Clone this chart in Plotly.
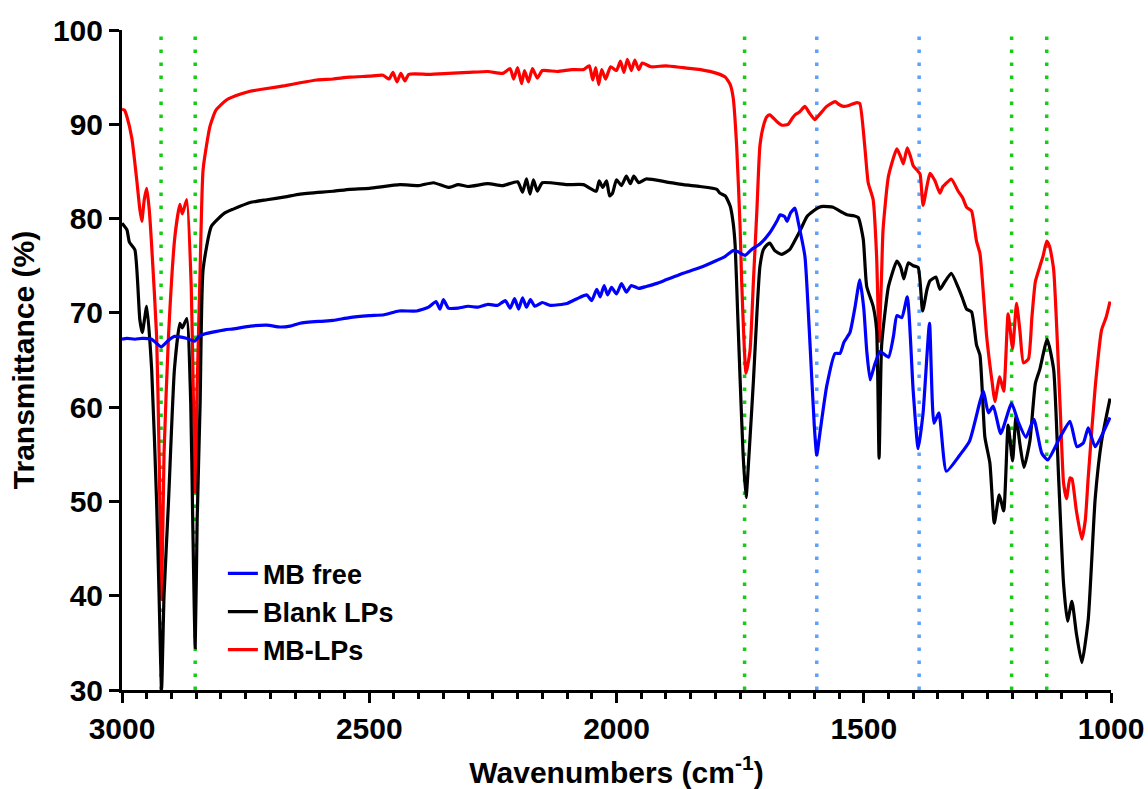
import plotly.graph_objects as go

# ---------------- data ----------------
red_wn = [3000, 2995, 2990, 2980, 2970, 2964, 2960, 2955, 2950, 2945, 2940, 2930, 2925, 2920, 2915, 2906,
          2893, 2883, 2878, 2869, 2860, 2856, 2852, 2848, 2842, 2836, 2822, 2810, 2788, 2760, 2741, 2707,
          2670, 2640, 2606, 2573, 2540, 2500, 2472, 2460, 2452, 2444, 2436, 2428, 2420, 2380, 2340, 2300,
          2260, 2230, 2215, 2208, 2200, 2192, 2186, 2178, 2170, 2160, 2150, 2120, 2090, 2067, 2055, 2048,
          2042, 2036, 2030, 2022, 2012, 2000, 1992, 1985, 1978, 1970, 1963, 1955, 1948, 1930, 1900, 1865,
          1830, 1797, 1780, 1770, 1764, 1757, 1750, 1747, 1738, 1730, 1723, 1716, 1710, 1703, 1696, 1690,
          1676, 1665, 1653, 1645, 1639, 1630, 1619, 1610, 1599, 1590, 1575, 1558, 1550, 1541, 1530, 1514,
          1508, 1498, 1491, 1481, 1474, 1469, 1464, 1461, 1450, 1433, 1425, 1420, 1412, 1405, 1400, 1390,
          1386, 1380, 1372, 1366, 1356, 1346, 1340, 1336, 1323, 1309, 1300, 1292, 1282, 1272, 1265, 1258,
          1252, 1245, 1240, 1235, 1225, 1217, 1208, 1199, 1191, 1184, 1177, 1167, 1160, 1153, 1144, 1137,
          1130, 1124, 1116, 1103, 1096, 1090, 1083, 1079, 1070, 1059, 1052, 1046, 1032, 1019, 1010, 1002]
red_t = [91.6, 91.5, 90.8, 88.5, 84.0, 81.0, 79.7, 82.0, 83.2, 81.0, 77.1, 67.5, 55.0, 39.6, 55.0, 67.5,
         78.1, 81.5, 80.5, 82.0, 72.8, 62.0, 51.0, 62.0, 74.6, 85.2, 89.8, 91.5, 92.6, 93.2, 93.5, 93.8,
         94.1, 94.4, 94.7, 94.8, 95.0, 95.1, 95.2, 94.8, 95.5, 94.5, 95.4, 94.6, 95.3, 95.3, 95.4, 95.5,
         95.6, 95.4, 95.9, 94.8, 96.0, 94.3, 95.7, 94.5, 95.9, 94.9, 95.7, 95.6, 95.8, 95.8, 96.2, 94.7,
         96.0, 94.2, 95.8, 94.8, 96.1, 95.7, 96.7, 95.5, 96.9, 95.7, 96.8, 95.8, 96.5, 96.1, 96.2, 96.0,
         95.8, 95.4, 95.0, 94.2, 92.8, 87.7, 79.0, 73.5, 63.6, 66.0, 73.5, 81.0, 87.7, 89.8, 90.8, 91.0,
         90.3, 89.9, 90.0, 90.6, 91.0, 91.3, 91.9, 91.2, 90.5, 91.0, 91.9, 92.4, 92.1, 91.9, 92.0, 92.3,
         92.2, 87.7, 83.8, 82.0, 76.0, 67.0, 74.0, 78.8, 84.5, 87.4, 86.5, 85.8, 87.5, 86.5, 85.6, 85.0,
         84.7, 81.4, 83.5, 84.8, 84.0, 82.7, 83.4, 83.6, 84.2, 82.9, 82.2, 81.2, 80.8, 77.6, 76.3, 72.0,
         67.8, 64.5, 62.5, 60.6, 63.2, 61.7, 69.9, 66.2, 71.0, 68.0, 64.7, 65.1, 69.5, 73.3, 74.9, 76.1,
         77.6, 77.0, 74.6, 60.2, 52.0, 50.3, 52.5, 52.4, 49.0, 46.0, 48.0, 52.6, 62.1, 68.2, 69.5, 71.2]

black_wn = [3000, 2990, 2985, 2974, 2964, 2959, 2950, 2940, 2930, 2925, 2920, 2915, 2906, 2894, 2883, 2878,
            2869, 2861, 2857, 2852, 2848, 2842, 2836, 2819, 2792, 2775, 2741, 2707, 2670, 2640, 2573, 2539,
            2500, 2438, 2400, 2370, 2340, 2320, 2300, 2260, 2230, 2200, 2190, 2182, 2175, 2168, 2160, 2150,
            2100, 2067, 2041, 2035, 2028, 2020, 2014, 2008, 2000, 1990, 1980, 1972, 1965, 1955, 1940, 1900,
            1865, 1831, 1797, 1791, 1780, 1770, 1764, 1760, 1755, 1750, 1744, 1738, 1732, 1723, 1716, 1710,
            1703, 1696, 1690, 1680, 1666, 1650, 1640, 1628, 1615, 1602, 1590, 1582, 1562, 1545, 1534, 1520,
            1511, 1501, 1494, 1481, 1474, 1469, 1464, 1456, 1450, 1433, 1425, 1419, 1410, 1400, 1390, 1381,
            1372, 1366, 1354, 1346, 1336, 1323, 1309, 1300, 1292, 1282, 1272, 1265, 1255, 1245, 1236, 1226,
            1217, 1208, 1199, 1192, 1184, 1176, 1164, 1153, 1144, 1129, 1116, 1106, 1096, 1088, 1079, 1070,
            1059, 1046, 1032, 1019, 1002]
black_t = [79.5, 78.8, 77.5, 76.7, 69.3, 67.9, 70.7, 64.0, 49.9, 40.0, 30.0, 40.0, 49.9, 64.0, 68.9, 68.4,
           69.4, 60.4, 48.0, 34.5, 48.0, 60.4, 74.6, 79.2, 80.6, 81.0, 81.7, 82.0, 82.3, 82.6, 82.9, 83.1,
           83.2, 83.6, 83.5, 83.8, 83.3, 83.6, 83.4, 83.7, 83.5, 83.9, 82.8, 84.2, 82.6, 84.1, 82.9, 83.8,
           83.6, 83.6, 82.9, 84.0, 83.3, 84.0, 82.4, 82.7, 84.1, 83.5, 84.5, 83.7, 84.5, 83.8, 84.2, 83.9,
           83.6, 83.4, 83.1, 82.7, 82.4, 81.3, 79.5, 77.1, 70.0, 62.9, 55.0, 50.4, 55.0, 62.9, 70.0, 74.9,
           76.7, 77.2, 77.4, 76.6, 76.2, 76.7, 77.6, 78.8, 80.2, 80.8, 81.2, 81.3, 81.2, 80.7, 80.4, 80.3,
           80.1, 77.8, 72.8, 70.7, 68.2, 54.6, 66.4, 70.5, 72.8, 75.5, 74.8, 73.6, 75.3, 75.0, 74.8, 70.2,
           72.5, 73.4, 73.8, 72.5, 73.3, 74.2, 72.7, 71.5, 70.4, 70.1, 66.6, 65.5, 56.8, 54.1, 47.7, 50.7,
           49.0, 58.1, 54.3, 59.1, 56.0, 53.6, 56.4, 62.5, 64.0, 67.2, 64.0, 52.6, 41.3, 37.3, 39.4, 36.0,
           32.9, 37.5, 50.3, 56.4, 60.9]

blue_wn = [3000, 2990, 2974, 2960, 2940, 2921, 2906, 2894, 2870, 2853, 2842, 2792, 2775, 2740, 2707, 2680,
           2660, 2640, 2600, 2573, 2540, 2500, 2470, 2440, 2404, 2380, 2365, 2357, 2350, 2340, 2320, 2300,
           2280, 2260, 2240, 2225, 2215, 2206, 2198, 2190, 2182, 2174, 2165, 2150, 2134, 2100, 2080, 2060,
           2050, 2040, 2033, 2025, 2018, 2010, 2000, 1990, 1980, 1970, 1955, 1940, 1920, 1900, 1880, 1865,
           1831, 1800, 1780, 1764, 1755, 1740, 1725, 1710, 1690, 1675, 1669, 1660, 1655, 1648, 1639, 1632,
           1619, 1610, 1600, 1595, 1588, 1575, 1558, 1548, 1540, 1528, 1518, 1508, 1500, 1494, 1487, 1478,
           1467, 1450, 1440, 1433, 1423, 1412, 1400, 1390, 1380, 1367, 1358, 1348, 1333, 1306, 1286, 1265,
           1258, 1248, 1238, 1223, 1201, 1188, 1172, 1156, 1140, 1128, 1103, 1083, 1069, 1056, 1046, 1032,
           1002]
blue_t = [67.2, 67.3, 67.2, 67.3, 67.2, 66.4, 67.1, 67.5, 67.3, 67.0, 67.6, 68.2, 68.3, 68.6, 68.7, 68.5,
          68.6, 68.9, 69.1, 69.2, 69.5, 69.7, 69.8, 70.2, 70.2, 70.6, 71.2, 70.4, 71.4, 70.5, 70.5, 70.7,
          70.6, 70.9, 70.8, 71.3, 70.5, 71.5, 70.4, 71.6, 70.6, 71.4, 70.7, 71.1, 70.8, 71.0, 71.5, 71.9,
          71.3, 72.5, 71.7, 72.9, 71.9, 72.7, 72.0, 73.1, 72.2, 72.9, 72.6, 72.8, 73.1, 73.5, 73.9, 74.2,
          74.8, 75.5, 76.0, 76.6, 76.5, 76.1, 76.8, 77.3, 78.5, 79.8, 80.4, 80.2, 79.7, 80.6, 81.1, 79.5,
          76.0, 68.0, 58.0, 54.9, 57.5, 62.2, 65.7, 65.7, 66.9, 67.9, 70.5, 73.5, 70.5, 66.0, 62.9, 64.5,
          65.9, 65.3, 67.5, 69.7, 69.5, 71.7, 61.7, 55.6, 59.4, 68.9, 58.3, 59.4, 53.2, 54.9, 56.4, 60.6,
          61.7, 59.4, 60.1, 57.2, 60.4, 58.5, 56.8, 58.7, 55.1, 54.4, 56.8, 58.5, 55.8, 56.2, 57.8, 55.8,
          58.9]

green_marks = [2921, 2852, 1741, 1201, 1130]
blue_marks = [1595, 1388]

x_tickvals = [3000, 2500, 2000, 1500, 1000]
x_ticktext = ["3000", "2500", "2000", "1500", "1000"]
y_tickvals = [30, 40, 50, 60, 70, 80, 90, 100]

series = [
    ("MB-LPs", red_wn, red_t, "#FF0000"),
    ("Blank LPs", black_wn, black_t, "#000000"),
    ("MB free", blue_wn, blue_t, "#0000FF"),
]

FONT = "Liberation Sans, Arial, sans-serif"

fig = go.Figure()
for name, xs, ys, col in series:
    fig.add_trace(go.Scatter(x=xs, y=ys, mode="lines", name=name,
                             line=dict(color=col, width=3.2, shape="spline", smoothing=0.5)))

for wn in green_marks:
    fig.add_shape(type="line", xref="x", yref="y", x0=wn, x1=wn, y0=30, y1=100,
                  line=dict(color="rgb(20,205,20)", width=3.5, dash="3.5px,9.5px"), layer="below")
for wn in blue_marks:
    fig.add_shape(type="line", xref="x", yref="y", x0=wn, x1=wn, y0=30, y1=100,
                  line=dict(color="rgb(95,160,250)", width=3.5, dash="3.5px,9.5px"), layer="below")

fig.update_layout(
    width=1148, height=789,
    margin=dict(l=122, r=37, t=30, b=99, autoexpand=False),
    paper_bgcolor="white", plot_bgcolor="white",
    font=dict(family=FONT, color="black"),
    showlegend=True,
    legend=dict(x=0.102, y=0.213, xanchor="left", yanchor="top",
                traceorder="reversed", bgcolor="rgba(0,0,0,0)",
                font=dict(family=FONT, size=27, color="black", weight="bold"),
                itemwidth=30, tracegroupgap=0),
    xaxis=dict(range=[3000, 1000], tickvals=x_tickvals, ticktext=x_ticktext, automargin=False,
               showgrid=False, zeroline=False, showline=True, linecolor="black", linewidth=3,
               ticks="outside", ticklen=10, tickwidth=3, tickcolor="black",
               minor=dict(dtick=50, tick0=1000, ticks="outside", ticklen=6, tickwidth=2.5, tickcolor="black"),
               tickfont=dict(family=FONT, size=30, color="black", weight="bold"),
               title=dict(text="Wavenumbers (cm<sup>-1</sup>)", standoff=20,
                          font=dict(family=FONT, size=30, color="black", weight="bold"))),
    yaxis=dict(range=[30, 100], tickvals=y_tickvals, automargin=False,
               showgrid=False, zeroline=False, showline=True, linecolor="black", linewidth=3,
               ticks="outside", ticklen=10, tickwidth=3, tickcolor="black",
               tickfont=dict(family=FONT, size=30, color="black", weight="bold"),
               title=dict(text="Transmittance (%)", standoff=10,
                          font=dict(family=FONT, size=30, color="black", weight="bold"))),
)

fig.write_html("out.html")
